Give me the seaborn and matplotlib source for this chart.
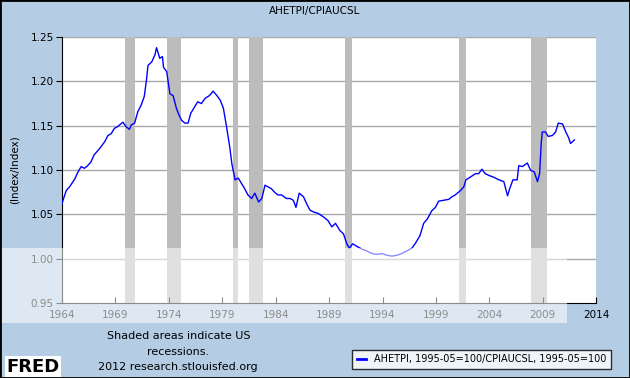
import numpy as np
import pandas as pd
import seaborn as sns
import matplotlib.pyplot as plt
from matplotlib.patches import Rectangle

years = [1964.0, 1964.15, 1964.4, 1964.7, 1965.2, 1965.5, 1965.8, 1966.1, 1966.4, 1966.7,
         1967.0, 1967.5, 1968.0, 1968.3, 1968.6, 1968.9, 1969.2, 1969.7, 1970.0, 1970.3,
         1970.5, 1970.8, 1971.1, 1971.4, 1971.7, 1971.9, 1972.05, 1972.4, 1972.7, 1972.85,
         1973.15, 1973.4, 1973.5, 1973.8, 1974.1, 1974.4, 1974.7, 1974.95, 1975.2, 1975.5,
         1975.8, 1976.05, 1976.4, 1976.7, 1977.05, 1977.4, 1977.8, 1978.15, 1978.5, 1978.8,
         1979.1, 1979.4, 1979.7, 1979.9, 1980.2, 1980.5, 1980.8, 1981.1, 1981.4, 1981.75,
         1982.05, 1982.4, 1982.7, 1983.0, 1983.3, 1983.6, 1983.9, 1984.2, 1984.55, 1985.0,
         1985.35, 1985.65, 1985.9, 1986.2, 1986.6, 1986.9, 1987.2, 1987.5, 1988.0, 1988.5,
         1988.9, 1989.25, 1989.6, 1990.0, 1990.35, 1990.65, 1990.9, 1991.2, 1991.6, 1992.05,
         1992.5, 1993.0, 1993.5, 1993.95, 1994.4, 1994.9, 1995.35, 1995.8, 1996.3, 1996.75,
         1997.05, 1997.5, 1997.85, 1998.2, 1998.6, 1998.95, 1999.25, 1999.7, 2000.2, 2000.5,
         2000.8, 2001.3, 2001.6, 2001.8, 2002.2, 2002.7, 2003.0, 2003.3, 2003.6, 2003.95,
         2004.4, 2004.9, 2005.35, 2005.7, 2005.9, 2006.2, 2006.6, 2006.75, 2007.1, 2007.55,
         2007.85, 2008.2, 2008.5, 2008.7, 2008.85, 2008.95, 2009.25, 2009.5, 2009.9, 2010.2,
         2010.45, 2010.85, 2011.15, 2011.4, 2011.6, 2011.95]
ratio = [1.062, 1.068, 1.077, 1.081, 1.090, 1.098, 1.104, 1.102, 1.105, 1.109,
         1.117, 1.124, 1.132, 1.139, 1.141, 1.147, 1.149, 1.154, 1.149, 1.146,
         1.151, 1.153, 1.166, 1.173, 1.183, 1.201, 1.218, 1.222, 1.230, 1.238,
         1.226, 1.228, 1.216, 1.211, 1.186, 1.184, 1.170, 1.162, 1.156, 1.153,
         1.153, 1.164, 1.171, 1.177, 1.175, 1.181, 1.184, 1.189, 1.184, 1.179,
         1.170, 1.149, 1.126, 1.107, 1.089, 1.091, 1.085, 1.079, 1.072, 1.068,
         1.074, 1.064, 1.068, 1.083, 1.081, 1.079, 1.075, 1.072, 1.072, 1.068,
         1.068, 1.066, 1.058, 1.074, 1.070, 1.062, 1.055, 1.053, 1.051, 1.047,
         1.043, 1.036, 1.040, 1.032, 1.028, 1.017, 1.012, 1.017, 1.014, 1.011,
         1.009, 1.006, 1.005, 1.006, 1.004, 1.003, 1.004, 1.006, 1.009, 1.012,
         1.017, 1.026, 1.040, 1.045, 1.054, 1.058, 1.065, 1.066, 1.067, 1.070,
         1.072, 1.077, 1.081, 1.089, 1.092, 1.096, 1.096, 1.101, 1.096, 1.094,
         1.092, 1.089, 1.087, 1.071, 1.079, 1.089, 1.089, 1.105, 1.104, 1.108,
         1.100, 1.098, 1.087, 1.096, 1.130, 1.143, 1.143, 1.138, 1.139, 1.143,
         1.153, 1.152, 1.143, 1.137, 1.130, 1.134]

# NBER recessions (start, end) in decimal years
rec_start = [1969.92, 1973.83, 1980.0, 1981.5, 1990.5, 2001.17, 2007.92]
rec_end = [1970.83, 1975.17, 1980.5, 1982.83, 1991.17, 2001.83, 2009.42]

xticks = [1964, 1969, 1974, 1979, 1984, 1989, 1994, 1999, 2004, 2009, 2014]
yticks = [0.95, 1.00, 1.05, 1.10, 1.15, 1.20, 1.25]

df = pd.DataFrame({"year": years, "ratio": ratio})

bg = "#b4cde4"
fig = plt.figure(figsize=(6.3, 3.78), dpi=100, facecolor=bg)
ax = fig.add_axes([0.0984, 0.198, 0.848, 0.704])
ax.set_facecolor("white")

for a, b in zip(rec_start, rec_end):
    ax.axvspan(a, b, color="#bcbcbc", lw=0, zorder=1)

for t in yticks[1:]:
    ax.axhline(t, color="#a8a8a8", lw=1, zorder=0.5)

sns.lineplot(data=df, x="year", y="ratio", color="#0000ff", lw=1, ax=ax, zorder=3,
             label="AHETPI, 1995-05=100/CPIAUCSL, 1995-05=100")

ax.set_xlim(1964, 2014)
ax.set_ylim(0.95, 1.25)
ax.set_xticks(xticks)
ax.set_yticks(yticks)
ax.set_yticklabels([f"{v:.2f}" for v in yticks])
ax.tick_params(axis="y", direction="out", length=4, labelsize=7.5, colors="black", pad=2)
ax.tick_params(axis="x", direction="in", length=4, labelsize=7.5, colors="black", pad=5)
for s in ["top", "right"]:
    ax.spines[s].set_visible(False)
ax.spines["left"].set_color("black")
ax.spines["bottom"].set_color("black")
ax.set_xlabel("")
ax.set_ylabel("(Index/Index)", fontsize=7.5, labelpad=8)

leg = ax.legend(loc="lower right", bbox_to_anchor=(0.978, 0.01),
                bbox_transform=fig.transFigure, fontsize=7, frameon=True,
                fancybox=False, edgecolor="black", handlelength=1.0, borderpad=0.5)
leg.get_frame().set_linewidth(1)
leg.get_lines()[0].set_linewidth(2)

fig.text(0.5, 0.972, "AHETPI/CPIAUCSL", ha="center", va="center", fontsize=7.5)
fig.text(0.283, 0.11, "Shaded areas indicate US", ha="center", va="center", fontsize=8)
fig.text(0.283, 0.07, "recessions.", ha="center", va="center", fontsize=8)
fig.text(0.283, 0.03, "2012 research.stlouisfed.org", ha="center", va="center", fontsize=8)
fig.text(0.01, 0.03, "FRED", ha="left", va="center", fontsize=13, fontweight="bold",
         bbox=dict(facecolor="white", edgecolor="none", pad=1))

# washed-out band from the image host watermark
fig.patches.append(Rectangle((0.0, 1 - 323 / 378), 567 / 630, 75 / 378,
                             transform=fig.transFigure, facecolor="white",
                             alpha=0.55, lw=0, zorder=10))
fig.patches.append(Rectangle((0.0, 0.0), 1.0, 1.0, transform=fig.transFigure,
                             fill=False, edgecolor="black", lw=2, zorder=11))

fig.savefig("out.png", dpi=100, facecolor=bg)
